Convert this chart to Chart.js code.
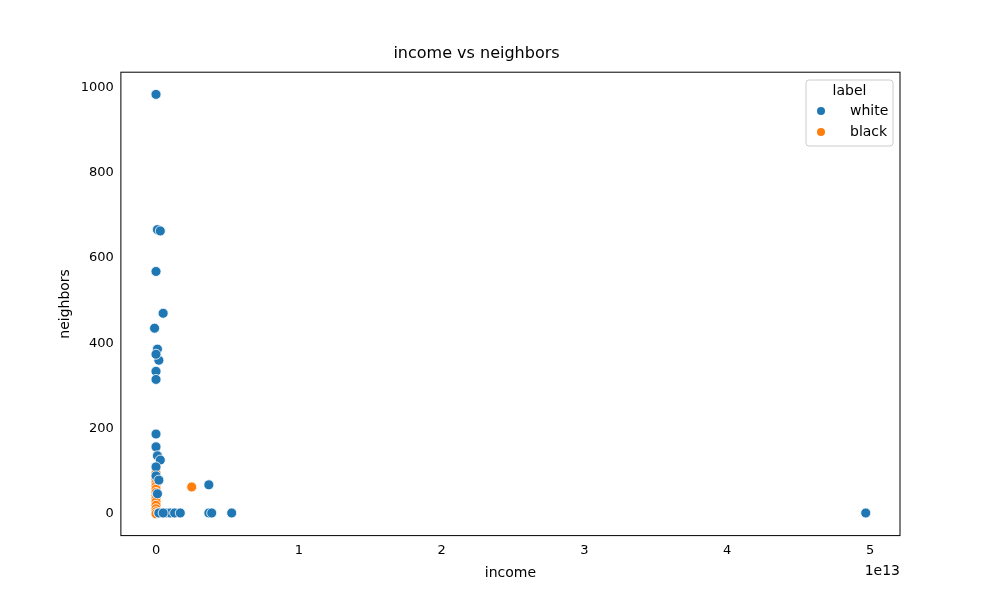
<!DOCTYPE html>
<html><head><meta charset="utf-8">
<script src="https://cdn.jsdelivr.net/npm/chart.js@4/dist/chart.umd.min.js"></script>
<style>body{margin:0;background:#fff}#wrap{width:1000px;height:600px}</style>
</head><body><div id="wrap"><canvas id="c"></canvas></div>
<script>
// income in units of 1e13, neighbors
const whiteIncome = [0, 0.01, 0.03, 0, 0.05, -0.01, 0.01, 0.02, 0, 0, 0, 0, 0, 0.01, 0.03, 0, 0, 0.02, 0.01, 0.37, 0.37, 0.39, 0.53, 4.97, 0.07, 0.1, 0.13, 0.17, 0.02, 0.05];
const whiteNeighbors = [983, 666, 663, 568, 470, 435, 386, 360, 374, 334, 315, 187, 157, 136, 126, 110, 89, 79, 47, 68, 2, 2, 2, 2, 2, 2, 2, 2, 2, 2];
const blackIncome = [0, 0, 0, 0, 0, 0, 0, 0, 0, 0, 0, 0, 0, 0, 0.25, 0.04, 0.02];
const blackNeighbors = [95, 88, 80, 72, 65, 58, 50, 42, 35, 28, 20, 12, 5, 0, 63, 2, 2];
const seriesLabels = ["white", "black"];
const colors = ["#1f77b4", "#ff7f0e"];

const pts = (xs, ys) => xs.map((x, i) => ({ x: x, y: ys[i] }));

const extras = {
  id: "extras",
  afterDraw(chart) {
    const ctx = chart.ctx, a = chart.chartArea;
    ctx.save();
    ctx.strokeStyle = "#000"; ctx.lineWidth = 1;
    ctx.strokeRect(a.left, a.top, a.right - a.left, a.bottom - a.top);
    ctx.fillStyle = "#000"; ctx.font = "14px 'DejaVu Sans'";
    ctx.textAlign = "right"; ctx.fillText("1e13", a.right, 575);
    // legend box
    const lx = 806, ly = 80, w = 87, h = 66;
    ctx.fillStyle = "rgba(255,255,255,0.8)"; ctx.strokeStyle = "#ccc";
    ctx.beginPath(); ctx.roundRect(lx, ly, w, h, 3); ctx.fill(); ctx.stroke();
    ctx.fillStyle = "#000"; ctx.textAlign = "center"; ctx.textBaseline = "middle";
    ctx.fillText("label", lx + w / 2, ly + 11);
    ctx.textAlign = "left";
    seriesLabels.forEach((s, i) => {
      const y = ly + 31 + i * 21;
      ctx.fillStyle = colors[i]; ctx.beginPath(); ctx.arc(lx + 15, y, 4, 0, Math.PI * 2); ctx.fill();
      ctx.fillStyle = "#000"; ctx.fillText(s, lx + 44, y);
    });
    ctx.restore();
  }
};

new Chart(document.getElementById("c"), {
  type: "scatter",
  data: {
    datasets: [
      { label: seriesLabels[0], data: pts(whiteIncome, whiteNeighbors), backgroundColor: colors[0], borderColor: "#fff", borderWidth: 0.8, pointRadius: 5 },
      { label: seriesLabels[1], data: pts(blackIncome, blackNeighbors), backgroundColor: colors[1], borderColor: "#fff", borderWidth: 0.8, pointRadius: 5 }
    ]
  },
  options: {
    responsive: true, maintainAspectRatio: false, animation: false,
    layout: { padding: { left: 53, right: 100, top: 8, bottom: 14 } },
    plugins: {
      legend: { display: false },
      tooltip: { enabled: false },
      title: { display: true, text: "income vs neighbors", color: "#000", font: { family: "DejaVu Sans", size: 16, weight: "normal" }, padding: { top: 36, bottom: 9 } }
    },
    scales: {
      x: {
        min: -0.246, max: 5.21,
        afterBuildTicks: (ax) => { ax.ticks = [0, 1, 2, 3, 4, 5].map(v => ({ value: v })); },
        grid: { display: false, drawTicks: true, tickLength: 4, tickColor: "#000" },
        border: { display: false },
        ticks: { color: "#000", font: { family: "DejaVu Sans", size: 13 } },
        title: { display: true, text: "income", color: "#000", font: { family: "DejaVu Sans", size: 14 }, padding: { top: 4 } }
      },
      y: {
        min: -51, max: 1035,
        afterBuildTicks: (ax) => { ax.ticks = [0, 200, 400, 600, 800, 1000].map(v => ({ value: v })); },
        grid: { display: false, drawTicks: true, tickLength: 4, tickColor: "#000" },
        border: { display: false },
        ticks: { color: "#000", font: { family: "DejaVu Sans", size: 13 }, callback: (v) => String(v) },
        title: { display: true, text: "neighbors", color: "#000", font: { family: "DejaVu Sans", size: 14 } }
      }
    }
  },
  plugins: [extras]
});
</script></body></html>
